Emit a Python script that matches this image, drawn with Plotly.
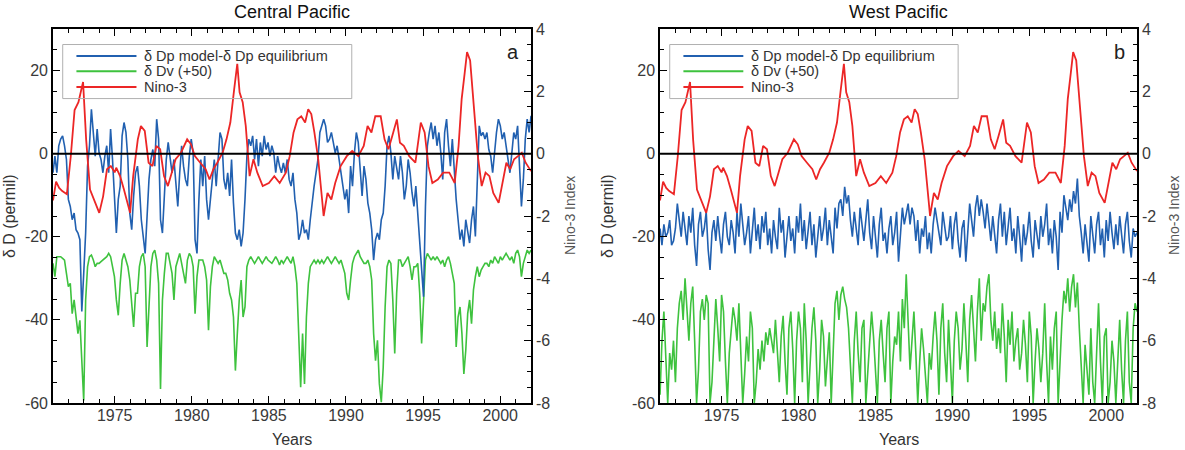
import numpy as np
import plotly.graph_objects as go

# ---------------- data ----------------
CP_START, CP_END = 1971.0, 2002.0   # Central Pacific series, regular sampling
CP_BLUE = [
    -4.6, -0.6, -4.6, 1.9, 3.5, 4.3, 1.9, -1.4, -11.0, -12.7,
    -15.9, -14.3, -18.3, -19.1, -20.7, -38.0, -28.8, -19.1, -3.0, 1.9,
    10.7, 5.1, -0.6, 5.9, 0.2, -1.4, -4.6, -0.6, 1.9, -4.6,
    5.9, -1.4, -9.4, -19.1, -11.0, -7.8, 4.3, 7.5, 5.1, -1.4,
    -14.3, -18.3, -10.2, -4.6, -3.0, -7.8, -15.9, -20.7, -24.0, -15.1,
    -6.2, -1.4, 1.0, -3.0, 8.3, 3.5, -15.9, -19.1, -11.0, -1.4,
    2.7, -1.4, -4.6, -1.4, -7.8, -12.7, -4.6, 1.9, -3.0, -6.2,
    -7.8, -0.6, 3.5, 0.2, -20.7, -24.0, -11.0, -1.4, -7.8, -0.6,
    -11.0, -15.9, -11.0, -6.2, -1.4, -7.8, -0.6, 5.1, 3.5, -6.2,
    -8.6, -4.6, -10.2, -1.4, -11.9, -19.1, -20.7, -18.3, -22.3, -19.1,
    -11.0, -0.6, 3.5, 1.9, 4.3, -1.4, 3.5, -3.0, 2.7, -0.6,
    4.3, 1.0, 2.7, -0.6, 1.9, 0.2, -4.6, -0.6, -3.0, -4.6,
    -2.2, -4.6, -1.4, -6.2, -7.8, -4.6, -11.0, -14.3, -20.7, -19.1,
    -15.9, -19.1, -18.3, -20.7, -15.9, -11.0, -7.8, -4.6, -1.4, 5.1,
    6.7, 8.3, 6.7, 2.7, 3.5, 5.1, 2.7, 0.2, 1.9, -1.4,
    -4.6, -7.8, -11.0, -8.6, -14.3, -3.0, -7.8, 0.2, 5.1, 2.7,
    -4.6, -10.2, -3.0, -6.2, -11.9, -14.3, -18.3, -25.6, -20.7, -19.1,
    -20.7, -15.9, -14.3, -7.8, 1.9, 4.3, 0.2, -6.2, -0.6, -3.0,
    -6.2, -0.6, -4.6, -11.0, -7.8, -1.4, -4.6, -9.4, -12.7, -7.8,
    -14.3, -19.1, -25.6, -34.4, -12.7, 1.9, 5.1, 7.5, 3.5, 6.7,
    1.9, 5.1, 0.2, -6.2, 5.1, 8.3, 1.9, -3.0, 3.5, -4.6,
    -11.0, -15.9, -20.7, -18.3, -22.3, -15.9, -19.1, -21.5, -15.9, -12.7,
    -19.9, -7.8, 6.7, 4.3, 5.1, 3.5, 5.1, 1.0, -0.6, -4.6,
    1.0, 5.1, 8.3, 6.7, 3.5, 5.1, 1.9, -1.4, -4.6, 0.2,
    5.1, 3.5, 6.7, -3.0, -12.7, -6.2, 3.5, 8.3, 5.1, 9.1,
]
CP_GREEN = [
    -26.4, -29.6, -24.8, -24.8, -24.8, -25.2, -25.6, -28.8, -32.0, -31.2,
    -38.5, -35.2, -40.1, -43.3, -40.1, -51.4, -59.4, -35.2, -27.2, -24.8,
    -24.4, -25.6, -27.2, -26.4, -26.4, -26.0, -25.6, -25.2, -24.8, -24.0,
    -24.8, -27.2, -29.6, -35.2, -38.9, -31.2, -25.6, -24.0, -25.6, -27.2,
    -30.4, -35.2, -41.7, -33.6, -33.6, -27.2, -24.8, -24.0, -27.2, -46.5,
    -35.2, -27.2, -24.0, -23.2, -25.6, -31.2, -56.6, -35.2, -28.8, -24.0,
    -24.0, -26.4, -28.8, -35.2, -27.2, -25.6, -24.0, -26.4, -28.8, -31.2,
    -25.6, -24.0, -24.8, -27.2, -38.5, -29.6, -25.6, -25.6, -25.6, -27.2,
    -30.4, -42.5, -32.0, -27.2, -24.8, -25.6, -26.4, -25.6, -27.2, -28.8,
    -28.8, -30.4, -33.6, -35.2, -39.3, -52.2, -43.3, -35.2, -30.4, -39.3,
    -36.9, -27.2, -25.6, -24.8, -25.6, -26.4, -25.6, -24.8, -25.6, -26.4,
    -25.6, -24.8, -25.6, -26.0, -26.4, -25.6, -24.8, -25.6, -26.8, -25.6,
    -26.4, -25.6, -24.8, -25.6, -26.4, -24.8, -27.2, -31.2, -41.7, -56.2,
    -43.3, -55.4, -39.3, -31.2, -27.2, -26.4, -25.6, -26.4, -25.6, -26.4,
    -25.6, -26.4, -25.6, -24.8, -25.6, -26.4, -25.6, -24.8, -25.6, -26.4,
    -25.6, -27.2, -28.8, -33.6, -35.2, -30.4, -26.4, -24.8, -24.0, -23.2,
    -24.8, -25.6, -26.4, -26.4, -25.6, -27.2, -30.4, -43.3, -49.8, -44.9,
    -55.4, -59.8, -51.4, -36.9, -27.2, -25.6, -26.4, -35.2, -48.1, -33.6,
    -25.6, -25.6, -27.2, -26.4, -25.6, -24.8, -27.2, -30.4, -27.2, -27.2,
    -26.4, -33.6, -45.7, -35.2, -25.6, -24.0, -24.8, -25.6, -24.8, -25.6,
    -24.8, -25.6, -26.4, -25.6, -27.2, -25.6, -24.8, -26.4, -28.8, -31.2,
    -46.5, -39.3, -36.9, -43.3, -53.0, -47.3, -38.5, -35.2, -40.9, -32.8,
    -29.6, -27.2, -29.6, -28.0, -27.2, -26.4, -26.4, -27.2, -25.6, -26.4,
    -24.8, -25.6, -26.4, -24.8, -25.6, -24.8, -24.0, -24.8, -25.6, -24.8,
    -26.4, -24.0, -23.2, -24.8, -29.6, -26.4, -24.8, -23.2, -24.0, -23.2,
]

WP_START, WP_STEP = 1971.0, 0.125   # West Pacific series, 8 values per year
WP_BLUE = [
    -18, -22, -17, -20, -19, -16, -22, -21,
    -18, -12, -16, -20, -14, -18, -22, -15,
    -19, -13, -22, -27, -17, -14, -20, -18,
    -14, -23, -28, -19, -16, -21, -15, -20,
    -24, -17, -14, -20, -22, -16, -19, -24,
    -14, -20, -12, -17, -22, -19, -15, -24,
    -18, -13, -21, -17, -23, -15, -19, -14,
    -22, -18, -24, -16, -20, -23, -13, -19,
    -16, -25, -20, -15, -21, -18, -24, -15,
    -19, -12, -21, -16, -23, -18, -14, -22,
    -17, -25, -19, -15, -21, -18, -13, -22,
    -16, -20, -24, -13, -18, -12, -11, -15,
    -8, -12, -10, -16, -20, -14, -18, -22,
    -13, -17, -21, -16, -11, -19, -23, -15,
    -20, -25, -17, -13, -21, -19, -24, -18,
    -15, -22, -19, -14, -26, -18, -13, -17,
    -14, -12, -17, -13, -15, -21, -16, -24,
    -18, -20, -15, -23, -19, -24, -17, -13,
    -16, -19, -22, -14, -18, -21, -20, -15,
    -23, -17, -14, -21, -25, -18, -16, -26,
    -19, -12, -16, -20, -13, -10, -15, -11,
    -14, -18, -12, -17, -21, -15, -19, -24,
    -16, -12, -20, -14, -22, -17, -13, -21,
    -18, -24, -15, -20, -26, -17, -22, -19,
    -14, -21, -25, -16, -19, -23, -15, -20,
    -17, -12, -22, -18, -24, -16, -20, -28,
    -14, -19, -10, -13, -16, -11, -14, -9,
    -12, -6, -15, -19, -24, -17, -21, -26,
    -15, -20, -24, -17, -14, -22, -18, -25,
    -16, -21, -14, -19, -23, -17, -22, -15,
    -19, -24, -17, -14, -21, -25, -18, -20,
    -19,
]
WP_GREEN = [
    -58, -45, -38, -50, -60, -48, -52, -45,
    -55, -42, -36, -33, -40, -30, -38, -45,
    -36, -32, -45, -60, -52, -38, -35, -40,
    -34, -36, -60, -55, -45, -35, -42, -50,
    -34, -38, -50, -60, -48, -42, -37, -40,
    -45, -36, -48, -60, -53, -44, -50, -38,
    -42, -60, -55, -47, -52, -45, -50, -43,
    -46, -42, -45, -48, -40, -47, -55, -44,
    -39, -50, -58, -42, -38, -47, -60, -45,
    -38, -42, -55, -36, -45, -60, -50, -42,
    -37, -45, -60, -52, -40, -44, -56, -48,
    -43, -60, -47, -36, -33, -40, -34, -32,
    -35, -37, -42, -50, -60, -45, -38, -48,
    -55, -42, -40, -60, -52, -45, -38, -44,
    -52, -60, -45, -40, -48, -55, -42, -38,
    -60, -50, -44, -46, -38, -50, -35, -42,
    -29, -40, -52, -45, -38, -48, -60, -50,
    -42, -47, -55, -60, -48, -52, -44, -38,
    -45, -58, -42, -36, -48, -55, -40, -50,
    -60, -45, -38, -42, -52, -47, -36, -45,
    -55, -40, -34, -42, -50, -38, -30, -45,
    -36, -38, -32, -29, -40, -45, -38, -47,
    -42, -48, -36, -44, -55, -40, -46, -38,
    -50, -45, -42, -52, -48, -40, -46, -55,
    -38, -44, -60, -50, -42, -47, -55, -48,
    -36, -50, -60, -44, -52, -42, -38, -60,
    -48, -40, -33, -36, -30, -38, -32, -29,
    -37, -31, -42, -50, -60, -46, -52, -58,
    -42, -55, -60, -48, -36, -50, -60, -44,
    -42, -60, -55, -45, -50, -60, -48, -40,
    -52, -60, -45, -38, -55, -60, -42, -36,
    -38,
]

NINO3_YEARS = [
    1971.0, 1971.2, 1971.4, 1971.6, 1971.9, 1972.15, 1972.4, 1972.65, 1972.95, 1973.15,
    1973.4, 1973.65, 1973.9, 1974.0, 1974.25, 1974.5, 1974.75, 1975.0, 1975.1, 1975.35,
    1975.6, 1975.85, 1976.0, 1976.2, 1976.5, 1976.7, 1976.95, 1977.2, 1977.45, 1977.7,
    1977.95, 1978.2, 1978.45, 1978.7, 1978.95, 1979.3, 1979.7, 1979.95, 1980.2, 1980.55,
    1980.9, 1981.15, 1981.4, 1981.65, 1982.0, 1982.25, 1982.5, 1982.75, 1982.95, 1983.1,
    1983.3, 1983.5, 1983.75, 1984.0, 1984.25, 1984.6, 1985.0, 1985.35, 1985.7, 1986.1,
    1986.35, 1986.6, 1986.85, 1987.1, 1987.35, 1987.55, 1987.75, 1987.95, 1988.2, 1988.45,
    1988.55, 1988.8, 1989.05, 1989.3, 1989.65, 1990.05, 1990.4, 1990.8, 1991.15, 1991.4,
    1991.65, 1991.9, 1992.25, 1992.5, 1992.75, 1993.0, 1993.3, 1993.5, 1993.75, 1994.1,
    1994.5, 1994.85, 1995.1, 1995.35, 1995.6, 1995.95, 1996.3, 1996.7, 1997.05, 1997.3,
    1997.5, 1997.7, 1997.85, 1998.05, 1998.3, 1998.55, 1998.8, 1999.05, 1999.3, 1999.55,
    1999.9, 2000.15, 2000.4, 2000.65, 2000.9, 2001.15, 2001.4, 2001.65, 2002.0,
]
NINO3 = [
    -1.5, -0.9, -1.1, -1.2, -1.3, -0.1, 1.4, 1.65, 2.3, 0.45,
    -1.15, -1.47, -1.8, -1.9, -1.37, -0.5, -0.4, -0.6, -0.45, -0.72,
    -1.15, -1.58, -1.9, -0.72, 0.46, 0.89, 0.73, -0.29, -0.4, 0.25,
    0.14, -0.72, -1.04, -0.61, -0.18, 0.03, 0.46, 0.3, -0.08, -0.29,
    -0.5, -0.83, -0.5, -0.29, 0.03, 0.46, 1.0, 2.07, 2.88, 1.97,
    1.65, 0.89, -0.72, -0.18, -0.61, -1.04, -0.94, -0.72, -0.94, -0.61,
    -0.08, 0.68, 1.1, 1.2, 1.0, 1.43, 1.27, 0.68, -0.18, -1.47,
    -2.0, -1.26, -1.47, -0.94, -0.4, -0.08, 0.09, -0.08, 0.25, 0.89,
    0.68, 1.2, 1.2, 0.46, 0.14, 0.57, 1.1, 0.35, 0.25, -0.08,
    -0.29, 1.0, 0.68, -0.4, -0.94, -0.83, -0.61, -0.61, -0.94, 0.25,
    1.75, 2.6, 3.26, 2.99, 1.43, -0.08, -1.04, -0.61, -0.72, -1.26,
    -1.58, -0.94, -0.29, -0.5, -0.18, -0.08, 0.03, -0.29, -0.56,
]

X_TICKS = [1975, 1980, 1985, 1990, 1995, 2000]
LEFT_TICKS = [-60, -40, -20, 0, 20]
RIGHT_TICKS = [-8, -6, -4, -2, 0, 2, 4]
SERIES_NAMES = ["δ Dp model-δ Dp equilibrium", "δ Dv (+50)", "Nino-3"]
PANEL_TITLES = ["Central Pacific", "West Pacific"]
PANEL_LETTERS = ["a", "b"]
X_TITLE = "Years"
Y_TITLE = "δ D (permil)"
Y2_TITLE = "Nino-3 Index"

# ---------------- styling ----------------
FONT = "Liberation Sans, Arial, Helvetica, sans-serif"
BLUE, GREEN, RED = "#2160b0", "#3ec23e", "#ec2626"
TICK_COLOR = "#3a3a3a"

cp_t = np.linspace(CP_START, CP_END, len(CP_BLUE))
wp_t = WP_START + WP_STEP * np.arange(len(WP_BLUE))

fig = go.Figure()
panels = [
    dict(x="x", y="y", y2="y2", t=cp_t, blue=CP_BLUE, green=CP_GREEN),
    dict(x="x2", y="y3", y2="y4", t=wp_t, blue=WP_BLUE, green=WP_GREEN),
]
for p in panels:
    fig.add_trace(go.Scatter(x=p["t"], y=p["green"], mode="lines", name=SERIES_NAMES[1],
                             line=dict(color=GREEN, width=1.6), xaxis=p["x"], yaxis=p["y"],
                             showlegend=False))
    fig.add_trace(go.Scatter(x=p["t"], y=p["blue"], mode="lines", name=SERIES_NAMES[0],
                             line=dict(color=BLUE, width=1.6), xaxis=p["x"], yaxis=p["y"],
                             showlegend=False))
    fig.add_trace(go.Scatter(x=NINO3_YEARS, y=NINO3, mode="lines", name=SERIES_NAMES[2],
                             line=dict(color=RED, width=1.8), xaxis=p["x"], yaxis=p["y2"],
                             showlegend=False))

xdom = [[0.0, 0.441], [0.560, 1.0]]
tickfont = dict(family=FONT, size=16, color=TICK_COLOR)

def label(v):
    return str(v)  # plain ASCII hyphen as in the reference

def xaxis_cfg(dom, anchor):
    return dict(domain=dom, anchor=anchor, range=[1971, 2002],
                tickmode="array", tickvals=X_TICKS, ticktext=[label(v) for v in X_TICKS],
                ticks="inside", ticklen=7, tickwidth=1.3, tickcolor="black",
                ticklabelstandoff=-3,
                showline=True, linecolor="black", linewidth=1.6, mirror="ticks",
                showgrid=False, zeroline=False, tickfont=tickfont,
                minor=dict(dtick=1, tick0=1971, ticks="inside", ticklen=4,
                           tickwidth=1.1, tickcolor="black", showgrid=False))

def yleft_cfg(anchor):
    return dict(anchor=anchor, range=[-60, 30], tickmode="array", tickvals=LEFT_TICKS,
                ticktext=[label(v) for v in LEFT_TICKS],
                ticks="inside", ticklen=7, tickwidth=1.3, tickcolor="black",
                showline=True, linecolor="black", linewidth=1.6, mirror=False,
                showgrid=False, zeroline=False, tickfont=tickfont,
                minor=dict(dtick=5, tick0=0, ticks="inside", ticklen=4,
                           tickwidth=1.1, tickcolor="black", showgrid=False))

def yright_cfg(anchor, over):
    return dict(anchor=anchor, overlaying=over, side="right", range=[-8, 4],
                tickmode="array", tickvals=RIGHT_TICKS,
                ticktext=[label(v) for v in RIGHT_TICKS],
                ticks="inside", ticklen=7, tickwidth=1.3, tickcolor="black",
                showline=True, linecolor="black", linewidth=1.6,
                showgrid=False, zeroline=False, tickfont=tickfont,
                minor=dict(dtick=0.5, tick0=0, ticks="inside", ticklen=4,
                           tickwidth=1.1, tickcolor="black", showgrid=False))

fig.update_layout(
    width=1185, height=450,
    margin=dict(l=53, r=48, t=29, b=47),
    paper_bgcolor="white", plot_bgcolor="white",
    font=dict(family=FONT, color="#222"),
    showlegend=False,
    xaxis=xaxis_cfg(xdom[0], "y"),
    yaxis=yleft_cfg("x"),
    yaxis2=yright_cfg("x", "y"),
    xaxis2=xaxis_cfg(xdom[1], "y3"),
    yaxis3=yleft_cfg("x2"),
    yaxis4=yright_cfg("x2", "y3"),
)

shapes = []
annotations = []
legend_rows = [0.9277, 0.887, 0.8452]
legend_colors = [BLUE, GREEN, RED]
ytitle_shift = [-44, -53]
y2title_shift = [39, 37]
for i, (xa, ya) in enumerate([("x", "y"), ("x2", "y3")]):
    xd = xa + " domain"
    yd = ya + " domain"
    # zero line
    shapes.append(dict(type="line", xref=xd, yref=ya, x0=0, x1=1, y0=0, y1=0,
                       line=dict(color="black", width=2), layer="above"))
    # legend box
    shapes.append(dict(type="rect", xref=xd, yref=yd, x0=0.0203, x1=0.625,
                       y0=0.814, y1=0.9585, line=dict(color="#b0b0b0", width=1),
                       fillcolor="rgba(0,0,0,0)", layer="above"))
    for row, col, name in zip(legend_rows, legend_colors, SERIES_NAMES):
        shapes.append(dict(type="line", xref=xd, yref=yd, x0=0.049, x1=0.1746,
                           y0=row, y1=row, line=dict(color=col, width=2), layer="above"))
        annotations.append(dict(xref=xd, yref=yd, x=0.186, y=row, text=name,
                                xanchor="left", yanchor="middle", showarrow=False,
                                font=dict(family=FONT, size=14.5, color="#333")))
    dom = xdom[i]
    cx = (dom[0] + dom[1]) / 2
    annotations.append(dict(xref="paper", yref="paper", x=cx, y=1, yshift=17,
                            text=PANEL_TITLES[i], xanchor="center", yanchor="middle",
                            showarrow=False, font=dict(family=FONT, size=18, color="#111")))
    annotations.append(dict(xref="paper", yref="paper", x=cx, y=0, yshift=-36,
                            text=X_TITLE, xanchor="center", yanchor="middle",
                            showarrow=False, font=dict(family=FONT, size=16, color="#333")))
    annotations.append(dict(xref="paper", yref="paper", x=dom[0], y=0.5, xshift=ytitle_shift[i],
                            text=Y_TITLE, textangle=-90, xanchor="center", yanchor="middle",
                            showarrow=False, font=dict(family=FONT, size=16, color="#333")))
    annotations.append(dict(xref="paper", yref="paper", x=dom[1], y=0.5, xshift=y2title_shift[i],
                            text=Y2_TITLE, textangle=-90, xanchor="center", yanchor="middle",
                            showarrow=False, font=dict(family=FONT, size=14, color="#555")))
    annotations.append(dict(xref="paper", yref="paper", x=dom[1], y=1, xshift=-18, yshift=-23,
                            text=PANEL_LETTERS[i], xanchor="center", yanchor="middle",
                            showarrow=False, font=dict(family=FONT, size=20, color="#222")))

fig.update_layout(shapes=shapes, annotations=annotations)
fig.write_html("out.html", config={"displayModeBar": False},
               post_script="document.body.style.margin='0';")
